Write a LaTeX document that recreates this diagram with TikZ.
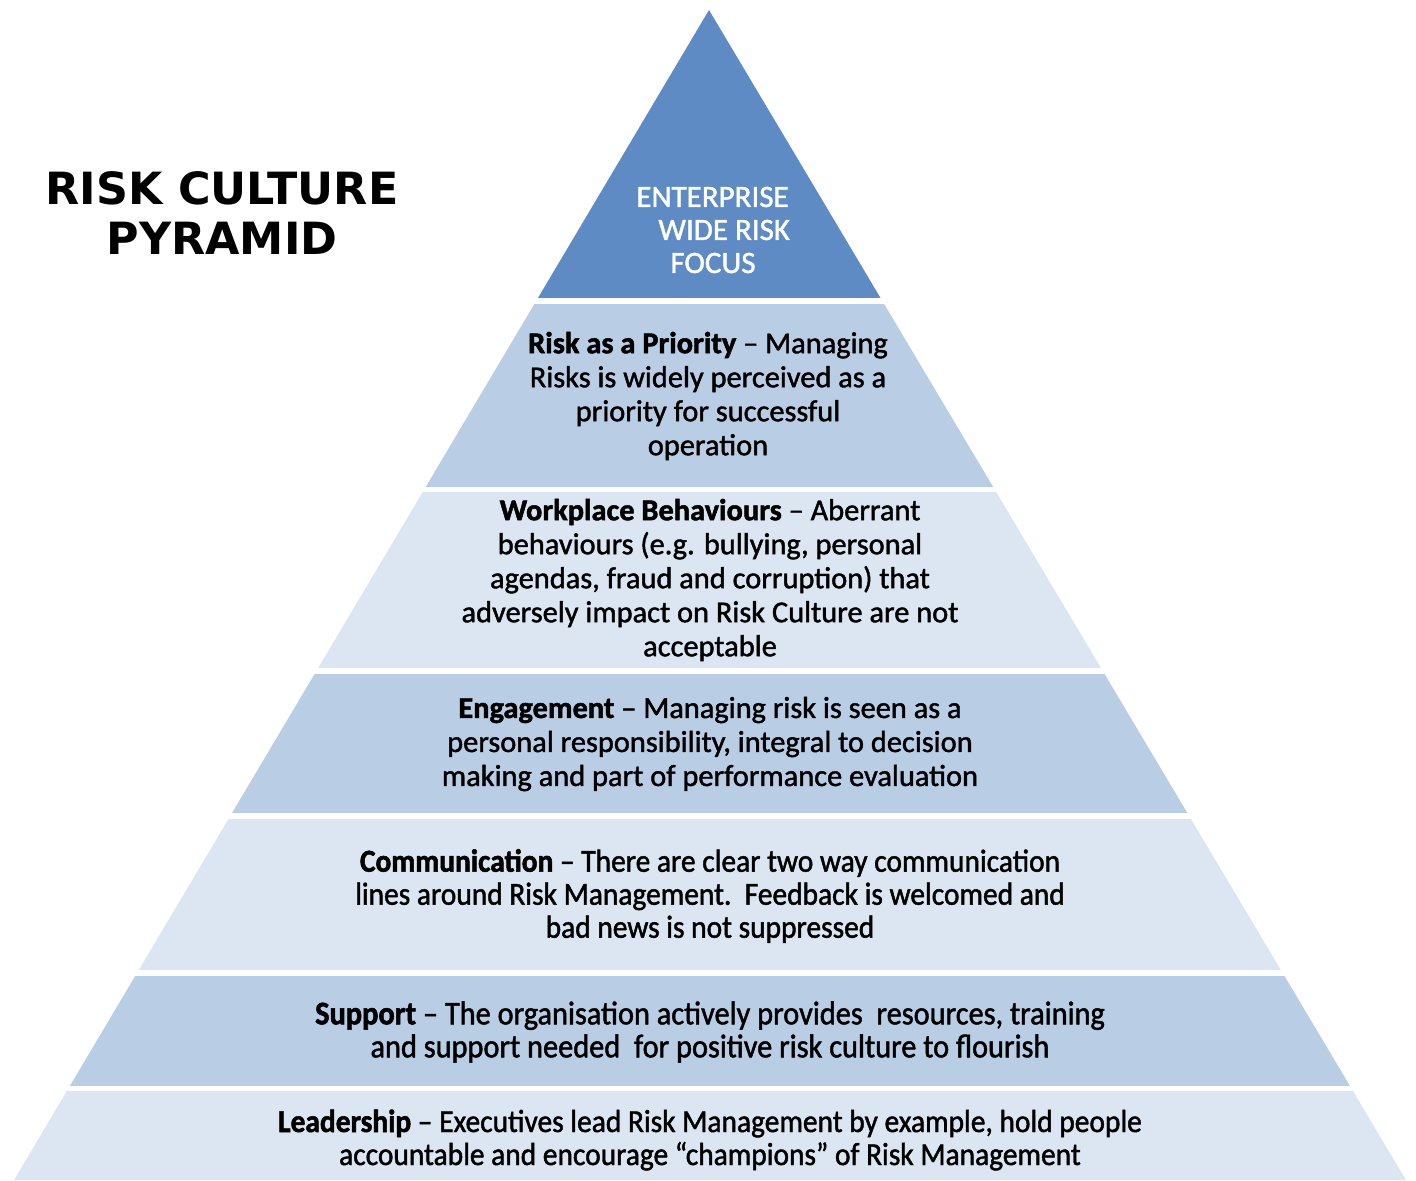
\documentclass[tikz,border=0pt]{standalone}
\usepackage{fontspec}
\setmainfont{Carlito}[UprightFeatures={FakeBold=1.4}, BoldFeatures={FakeBold=1.6}]
\newfontfamily\titlefont{DejaVu Sans}
\newfontfamily\narrowfont{Carlito}[FakeStretch=0.92, UprightFeatures={FakeBold=1.4}, BoldFeatures={FakeBold=1.6}]
\usetikzlibrary{positioning}

\definecolor{apexblue}{RGB}{95,139,196}
\definecolor{tierdark}{RGB}{185,205,229}
\definecolor{tierlight}{RGB}{220,230,242}

\begin{document}
\begin{tikzpicture}[
    x=0.5pt, y=-0.5pt,
    tier/.style={
        align=center,
        inner sep=0pt,
        font=\fontsize{15.2}{17}\selectfont
    },
    narrowtier/.style={tier, font=\narrowfont\fontsize{16}{16.5}\selectfont},
    apextext/.style={tier, text=white, align=left, font=\fontsize{15.5}{16.5}\selectfont},
    heading/.style={align=center, font=\titlefont\bfseries\fontsize{22.2}{25}\selectfont}
]
\useasboundingbox (0,0) rectangle (1416,1180);

% Pyramid corners
\coordinate (apex) at (709,10);
\coordinate (baseL) at (14,1180);
\coordinate (baseR) at (1406,1180);

% Tiers, cut out of the triangle with white gaps between them
\begin{scope}
    \clip (apex) -- (baseR) -- (baseL) -- cycle;
    \foreach \ytop/\ybot/\col in {0/298/apexblue, 304/487/tierdark, 492/668/tierlight,
                                   674/813/tierdark, 819/970/tierlight, 976/1086/tierdark,
                                   1091/1180/tierlight}
        \fill[\col] (0,\ytop) rectangle (1416,\ybot);
\end{scope}

% Title
\node[heading] (title) at (222,213) {RISK CULTURE\\PYRAMID};

% Tier texts
\node[apextext, anchor=west] (focus) at (636,230) {ENTERPRISE\\\hspace*{11pt}WIDE RISK\\\hspace*{17pt}FOCUS};
\node[tier] (priority) at (708,396) {\textbf{Risk as a Priority} – Managing\\Risks is widely perceived as a\\priority for successful\\operation};
\node[tier] (behaviour) at (710,580) {\textbf{Workplace Behaviours} – Aberrant\\behaviours (e.g. bullying, personal\\agendas, fraud and corruption) that\\adversely impact on Risk Culture are not\\acceptable};
\node[tier] (engagement) at (710,744) {\textbf{Engagement} – Managing risk is seen as a\\personal responsibility, integral to decision\\making and part of performance evaluation};
\node[narrowtier] (communication) at (710,896) {\textbf{Communication} – There are clear two way communication\\lines around Risk Management.\ \ Feedback is welcomed and\\bad news is not suppressed};
\node[narrowtier, font=\narrowfont\fontsize{16.5}{16.5}\selectfont] (support) at (710,1032) {\textbf{Support} – The organisation actively provides\ \ resources, training\\and support needed\ \ for positive risk culture to flourish};
\node[narrowtier] (leadership) at (710,1140) {\textbf{Leadership} – Executives lead Risk Management by example, hold people\\accountable and encourage “champions” of Risk Management};

\end{tikzpicture}
\end{document}
